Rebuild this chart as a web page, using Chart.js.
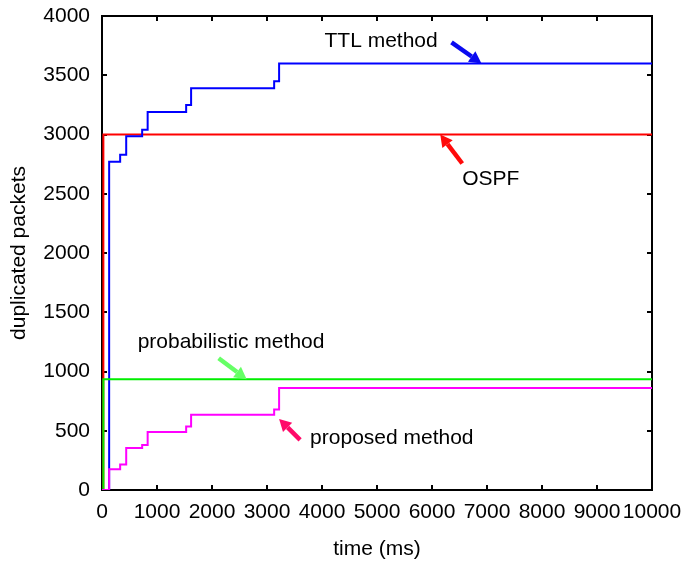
<!DOCTYPE html>
<html>
<head>
<meta charset="utf-8">
<script src="https://cdn.jsdelivr.net/npm/chart.js@4"></script>
<style>
  html, body { margin: 0; padding: 0; background: #fff; }
  #wrap { width: 687px; height: 564px; }
</style>
</head>
<body>
<div id="wrap"><canvas id="dupChart"></canvas></div>
<script>
  // time axis (ms) and duplicated packet counts for each scheme
  const ttlTime = [0, 130, 330, 440, 730, 830, 1530, 1620, 3130, 3220, 10000];
  const ttlPackets = [0, 2770, 2830, 2985, 3040, 3190, 3250, 3390, 3450, 3600, 3600];

  const ospfTime = [0, 25, 10000];
  const ospfPackets = [0, 3000, 3000];

  const probTime = [0, 25, 10000];
  const probPackets = [0, 935, 935];

  const proposedTime = [0, 130, 330, 440, 730, 830, 1530, 1620, 3130, 3220, 10000];
  const proposedPackets = [0, 175, 215, 355, 380, 490, 535, 635, 680, 860, 860];

  const xTicks = [0, 1000, 2000, 3000, 4000, 5000, 6000, 7000, 8000, 9000, 10000];
  const yTicks = [0, 500, 1000, 1500, 2000, 2500, 3000, 3500, 4000];

  function toPoints(xs, ys) {
    return xs.map(function (x, i) { return { x: x, y: ys[i] }; });
  }

  // labels with arrows pointing at a spot on each curve
  const notes = [
    { text: 'TTL method', at: [6900, 3600], color: '#0a0af0', tail: [-30, -21], label: [-157, -16] },
    { text: 'OSPF', at: [6150, 3000], color: '#ff0a0a', tail: [22, 29], label: [22, 50] },
    { text: 'probabilistic method', at: [2630, 935], color: '#66ff66', tail: [-28, -21], label: [-109, -31] },
    { text: 'proposed method', at: [3220, 600], color: '#ff0a6a', tail: [21, 21], label: [31, 25] }
  ];

  const FAMILY = '"Liberation Sans", Arial, sans-serif';
  const FONT = '21px ' + FAMILY;

  // closed box round the plot with short inward ticks on all four sides
  const framePlugin = {
    id: 'frame',
    beforeDatasetsDraw(chart) {
      const ctx = chart.ctx;
      const a = chart.chartArea;
      const xs = chart.scales.x, ys = chart.scales.y;
      const len = 5;
      ctx.save();
      ctx.strokeStyle = '#000';
      ctx.lineWidth = 2;
      ctx.strokeRect(a.left, a.top, a.right - a.left, a.bottom - a.top);
      ctx.beginPath();
      xTicks.forEach(function (v) {
        const px = Math.round(xs.getPixelForValue(v));
        ctx.moveTo(px, a.bottom); ctx.lineTo(px, a.bottom - len);
        ctx.moveTo(px, a.top); ctx.lineTo(px, a.top + len);
      });
      yTicks.forEach(function (v) {
        const py = Math.round(ys.getPixelForValue(v));
        ctx.moveTo(a.left, py); ctx.lineTo(a.left + len, py);
        ctx.moveTo(a.right, py); ctx.lineTo(a.right - len, py);
      });
      ctx.stroke();
      ctx.restore();
    }
  };

  const notePlugin = {
    id: 'notes',
    afterDatasetsDraw(chart) {
      const ctx = chart.ctx;
      const xs = chart.scales.x, ys = chart.scales.y;
      ctx.save();
      notes.forEach(function (n) {
        const tx = xs.getPixelForValue(n.at[0]);
        const ty = ys.getPixelForValue(n.at[1]);
        const sx = tx + n.tail[0], sy = ty + n.tail[1];
        const ang = Math.atan2(ty - sy, tx - sx);
        const head = 12, half = 6.5;
        const bx = tx - head * Math.cos(ang), by = ty - head * Math.sin(ang);
        ctx.strokeStyle = n.color;
        ctx.fillStyle = n.color;
        ctx.lineWidth = 4.5;
        ctx.beginPath();
        ctx.moveTo(sx, sy);
        ctx.lineTo(bx, by);
        ctx.stroke();
        ctx.beginPath();
        ctx.moveTo(tx, ty);
        ctx.lineTo(bx + half * Math.sin(ang), by - half * Math.cos(ang));
        ctx.lineTo(bx - half * Math.sin(ang), by + half * Math.cos(ang));
        ctx.closePath();
        ctx.fill();
        ctx.fillStyle = '#000';
        ctx.font = FONT;
        ctx.textAlign = 'left';
        ctx.textBaseline = 'alphabetic';
        ctx.fillText(n.text, tx + n.label[0], ty + n.label[1]);
      });
      ctx.restore();
    }
  };

  function series(label, pts, color) {
    return {
      label: label,
      data: pts,
      borderColor: color,
      backgroundColor: color,
      borderWidth: 2,
      pointRadius: 0,
      stepped: 'before',
      fill: false
    };
  }

  new Chart(document.getElementById('dupChart'), {
    type: 'line',
    data: {
      datasets: [
        series('proposed method', toPoints(proposedTime, proposedPackets), '#ff00ff'),
        series('probabilistic method', toPoints(probTime, probPackets), '#00ee00'),
        series('TTL method', toPoints(ttlTime, ttlPackets), '#0000ff'),
        series('OSPF', toPoints(ospfTime, ospfPackets), '#ff0000')
      ]
    },
    options: {
      responsive: true,
      maintainAspectRatio: false,
      animation: false,
      layout: { padding: { top: 16, right: 35, left: 0, bottom: 0 } },
      plugins: {
        legend: { display: false },
        tooltip: { enabled: false }
      },
      scales: {
        x: {
          type: 'linear',
          min: 0,
          max: 10000,
          afterFit(s) {
            s.height = 74;
            s.paddingLeft = 0;
            s.paddingRight = 0;
          },
          afterBuildTicks(s) { s.ticks = xTicks.map(function (v) { return { value: v }; }); },
          grid: { display: false, drawTicks: false },
          border: { display: false },
          ticks: {
            padding: 10,
            maxRotation: 0,
            autoSkip: false,
            color: '#000',
            font: { family: FAMILY, size: 21 },
            callback: function (v) { return String(v); }
          },
          title: {
            display: true,
            text: 'time (ms)',
            color: '#000',
            font: { family: FAMILY, size: 21 },
            padding: { top: 0, bottom: 2 }
          }
        },
        y: {
          type: 'linear',
          min: 0,
          max: 4000,
          afterFit(s) {
            s.width = 102;
            s.paddingTop = 0;
            s.paddingBottom = 0;
          },
          afterBuildTicks(s) { s.ticks = yTicks.map(function (v) { return { value: v }; }); },
          grid: { display: false, drawTicks: false },
          border: { display: false },
          ticks: {
            padding: 12,
            color: '#000',
            font: { family: FAMILY, size: 21 },
            callback: function (v) { return String(v); }
          },
          title: {
            display: true,
            text: 'duplicated packets',
            color: '#000',
            font: { family: FAMILY, size: 21 },
            padding: { top: 7, bottom: 0 }
          }
        }
      }
    },
    plugins: [framePlugin, notePlugin]
  });
</script>
</body>
</html>
